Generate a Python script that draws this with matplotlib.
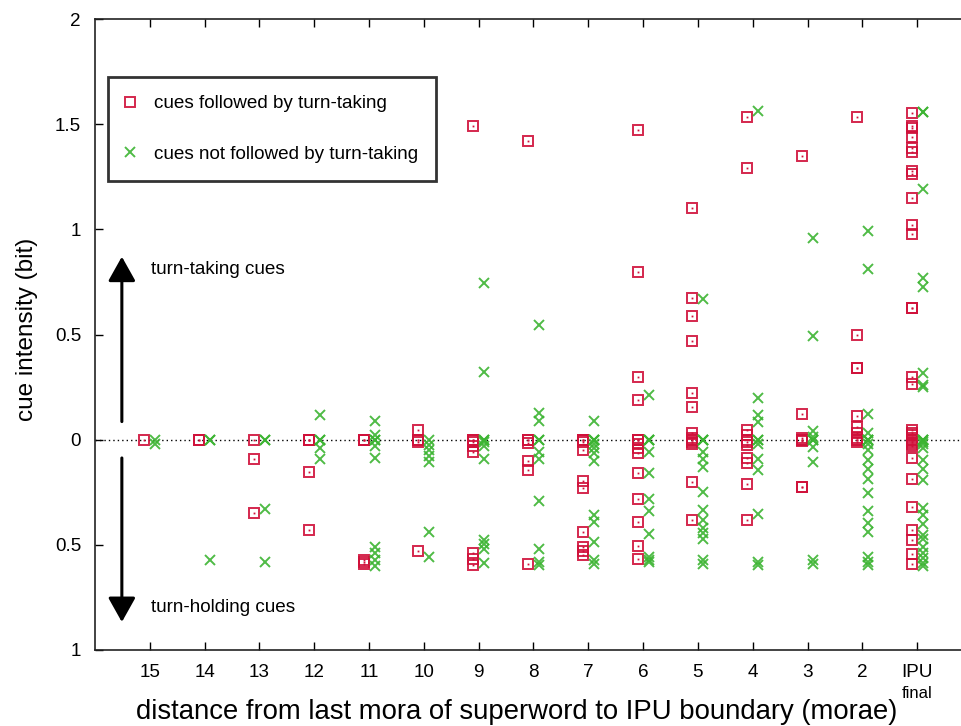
import matplotlib
matplotlib.use("Agg")
import matplotlib.pyplot as plt
import numpy as np

plt.rcParams['font.family'] = ['Liberation Sans', 'DejaVu Sans']

# categories (distance in morae), IPU final drawn at position 1
cat_labels = ['15', '14', '13', '12', '11', '10', '9', '8', '7', '6', '5', '4', '3', '2', 'IPU']
cat_pos = [15, 14, 13, 12, 11, 10, 9, 8, 7, 6, 5, 4, 3, 2, 1]

# cues followed by turn-taking (red squares)
taking = {
    15: [0.0],
    14: [0.0, 0.0],
    13: [0.0, -0.09, -0.35],
    12: [0.0, 0.0, 0.0, -0.155, -0.43],
    11: [0.0, 0.0, 0.0, -0.57, -0.58, -0.59],
    10: [0.046, 0.0, 0.0, -0.01, -0.53],
    9: [1.49, 0.0, 0.0, -0.01, -0.03, -0.057, -0.54, -0.565, -0.595],
    8: [1.42, 0.0, 0.0, -0.015, -0.10, -0.145, -0.59],
    7: [0.0, 0.0, 0.0, -0.01, -0.05, -0.196, -0.23, -0.44, -0.51, -0.53, -0.55],
    6: [1.471, 0.796, 0.298, 0.19, 0.0, 0.0, 0.0, -0.02, -0.04, -0.065, -0.16,
        -0.28, -0.39, -0.505, -0.567],
    5: [1.10, 0.672, 0.588, 0.471, 0.22, 0.157, 0.03, 0.01, 0.0, 0.0, -0.01,
        -0.02, -0.2, -0.38],
    4: [1.533, 1.29, 0.046, 0.02, 0.0, -0.01, -0.025, -0.085, -0.11, -0.21, -0.38],
    3: [1.35, 0.12, 0.01, 0.0, 0.0, -0.005, -0.224, -0.224],
    2: [1.533, 0.498, 0.342, 0.342, 0.113, 0.062, 0.03, 0.01, 0.0, 0.0, -0.01],
    1: [1.552, 1.49, 1.48, 1.44, 1.385, 1.37, 1.278, 1.262, 1.151, 1.02, 0.98,
        0.628, 0.628, 0.3, 0.265, 0.046, 0.03, 0.02, 0.01, 0.0, 0.0, -0.01,
        -0.02, -0.03, -0.085, -0.185, -0.32, -0.43, -0.477, -0.544, -0.59],
}

# cues not followed by turn-taking (green crosses)
not_taking = {
    15: [0.0, -0.02],
    14: [0.0, 0.0, -0.57],
    13: [0.0, 0.0, -0.33, -0.58],
    12: [0.117, 0.0, 0.0, -0.04, -0.09],
    11: [0.089, 0.022, 0.0, 0.0, -0.03, -0.088, -0.51, -0.54, -0.57, -0.6],
    10: [0.0, -0.025, -0.049, -0.08, -0.105, -0.44, -0.556],
    9: [0.745, 0.322, 0.0, 0.0, -0.01, -0.03, -0.09, -0.477, -0.496, -0.52, -0.588],
    8: [0.545, 0.125, 0.09, 0.0, 0.0, -0.057, -0.09, -0.29, -0.52, -0.58, -0.595],
    7: [0.09, 0.0, 0.0, 0.0, -0.02, -0.04, -0.065, -0.1, -0.36, -0.39, -0.485,
        -0.57, -0.59],
    6: [0.21, 0.0, 0.0, 0.0, -0.057, -0.157, -0.283, -0.34, -0.45, -0.556,
        -0.57, -0.58],
    5: [0.668, 0.0, 0.0, 0.0, -0.057, -0.09, -0.128, -0.247, -0.334, -0.38,
        -0.42, -0.445, -0.47, -0.57, -0.59],
    4: [1.563, 0.197, 0.117, 0.086, 0.0, 0.0, -0.02, -0.09, -0.144, -0.353,
        -0.58, -0.596],
    3: [0.96, 0.495, 0.043, 0.014, 0.0, 0.0, -0.033, -0.105, -0.57, -0.59],
    2: [0.992, 0.812, 0.12, 0.03, 0.0, 0.0, 0.0, -0.02, -0.049, -0.097, -0.14,
        -0.188, -0.255, -0.338, -0.395, -0.437, -0.556, -0.58, -0.596],
    1: [1.56, 1.56, 1.19, 0.767, 0.725, 0.318, 0.26, 0.25, 0.0, 0.0, 0.0, -0.01,
        -0.02, -0.04, -0.097, -0.14, -0.19, -0.326, -0.358, -0.4, -0.453, -0.474,
        -0.508, -0.54, -0.564, -0.588, -0.6],
}

y_ticks = [-1, -0.5, 0, 0.5, 1, 1.5, 2]

red = '#d0103a'
green = '#3cb432'
offset = 0.1
small = 13.6

fig = plt.figure(figsize=(9.61, 7.26), dpi=100)
ax = fig.add_axes([95 / 961, 76 / 726, 1 - 95 / 961, (650 - 19) / 726])

rx, ry, gx, gy = [], [], [], []
for p in cat_pos:
    for v in taking[p]:
        rx.append(p + offset)
        ry.append(v)
    for v in not_taking[p]:
        gx.append(p - offset)
        gy.append(v)

ax.axhline(0, color='black', linestyle=(0, (1, 2.2)), linewidth=1, zorder=1)

ax.plot(rx, ry, linestyle='none', marker='s', markersize=7.2, markerfacecolor='none',
        markeredgecolor=red, markeredgewidth=1.4, alpha=0.9, zorder=3,
        label='cues followed by turn-taking')
ax.plot(rx, ry, linestyle='none', marker='s', markersize=1.3, color=red,
        markeredgewidth=0, zorder=3)
ax.plot(gx, gy, linestyle='none', marker='x', markersize=7.2, color=green,
        markeredgewidth=1.4, alpha=0.9, zorder=3,
        label='cues not followed by turn-taking')

ax.set_xlim(16, 0.2)
ax.set_ylim(-1, 2)
ax.set_xticks(cat_pos)
ax.set_xticklabels(cat_labels)
ax.set_yticks(y_ticks)
ax.set_yticklabels(['%g' % abs(t) for t in y_ticks])
ax.tick_params(direction='in', length=6, width=1, labelsize=small, top=True,
               right=False, colors='black')
ax.tick_params(axis='x', pad=10)
ax.tick_params(axis='y', pad=10)
for s in ['left', 'bottom', 'top']:
    ax.spines[s].set_linewidth(1.2)
    ax.spines[s].set_color('#222222')
ax.spines['right'].set_visible(False)

# small "final" under the IPU tick label
ax.annotate('final', xy=(1, 0), xycoords=('data', 'axes fraction'),
            xytext=(0, -31), textcoords='offset points', ha='center', va='center',
            fontsize=12)

# arrows showing cue direction
ax.annotate('', xy=(15.51, 0.87), xytext=(15.51, 0.086),
            arrowprops=dict(arrowstyle='-|>,head_length=0.75,head_width=0.42',
                            color='black', lw=2.2, mutation_scale=20, shrinkA=0, shrinkB=0))
ax.annotate('', xy=(15.51, -0.867), xytext=(15.51, -0.087),
            arrowprops=dict(arrowstyle='-|>,head_length=0.75,head_width=0.42',
                            color='black', lw=2.2, mutation_scale=20, shrinkA=0, shrinkB=0))
ax.text(14.97, 0.807, 'turn-taking cues', fontsize=small, va='center', ha='left')
ax.text(14.97, -0.80, 'turn-holding cues', fontsize=small, va='center', ha='left')

leg = ax.legend(loc='upper left', bbox_to_anchor=(13 / 866, 1 - 58 / 631), fontsize=small,
                frameon=True, fancybox=False, edgecolor='black', borderpad=0.95,
                labelspacing=1.76, handlelength=0.42, handletextpad=1.05,
                borderaxespad=0)
leg.get_frame().set_linewidth(2)

fig.text(517 / 961, 1 - 712 / 726, 'distance from last mora of superword to IPU boundary (morae)',
         ha='center', va='center', fontsize=19.8)
fig.text(27 / 961, 1 - 329 / 726, 'cue intensity (bit)', ha='center', va='center',
         rotation=90, fontsize=17.5)

fig.savefig('out.png', dpi=100)
